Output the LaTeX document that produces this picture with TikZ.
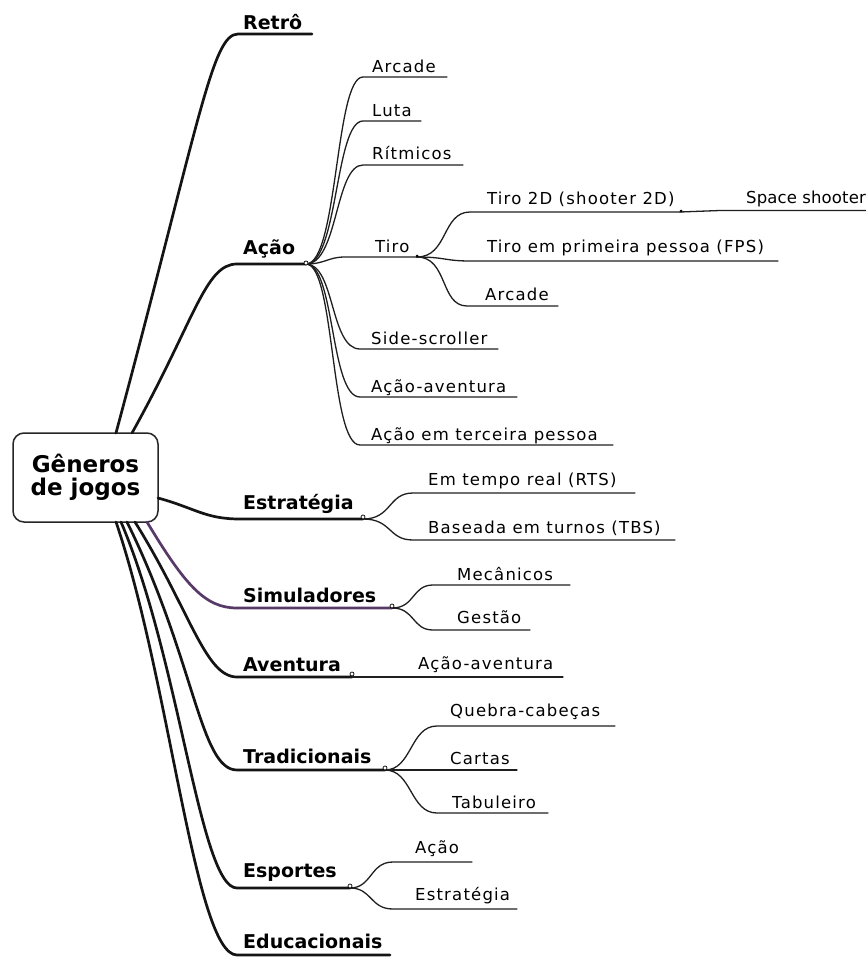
\documentclass[tikz,border=0pt]{standalone}
\usepackage{fontspec}
\setmainfont{DejaVu Sans}
\newfontfamily\leaffamily[LetterSpace=7.2]{DejaVu Sans}
\newfontfamily\tightfamily[LetterSpace=0.8]{DejaVu Sans}
\definecolor{plum}{RGB}{88,58,104}
\begin{document}
\begin{tikzpicture}[x=1pt,y=-1pt,
  topic/.style={anchor=base west, inner sep=0pt, font=\fontsize{19pt}{23pt}\selectfont\bfseries},
  leaf/.style={anchor=base west, inner sep=0pt, font=\fontsize{16.5pt}{20pt}\selectfont\leaffamily},
  tightleaf/.style={anchor=base west, inner sep=0pt, font=\fontsize{16.5pt}{20pt}\selectfont\tightfamily},
  trunk/.style={line width=2.7pt, line cap=round, draw=black!92},
  twig/.style={line width=1.3pt, line cap=round, draw=black!88},
  knob/.style={circle, draw=black, fill=white, line width=0.7pt, inner sep=0pt, minimum size=4pt},
  pin/.style={circle, fill=black, inner sep=0pt, minimum size=3pt},
]
\useasboundingbox[fill=white] (0,0) rectangle (866,958);

% central topic
\node[draw=black!85, line width=1.5pt, rounded corners=11pt, minimum width=145pt,
      minimum height=89pt, align=center, inner sep=0pt,
      font=\fontsize{23pt}{23pt}\selectfont\bfseries] (root) at (85.5,477.5) {Gêneros\\de jogos};
\coordinate (root-retro) at (116,433);
\coordinate (root-acao)  at (132,433);
\coordinate (root-estr)  at (158,498);
\coordinate (root-simu)  at (147,522);
\coordinate (root-aven)  at (135,522);
\coordinate (root-trad)  at (127,522);
\coordinate (root-espo)  at (121,522);
\coordinate (root-educ)  at (116,522);

% ---------- main topics ----------
\coordinate (retro-s) at (238,34);  \coordinate (retro-e) at (312,34);
\coordinate (acao-s)  at (237,264); \coordinate (acao-e)  at (306,264);
\coordinate (estr-s)  at (240,519); \coordinate (estr-e)  at (363,519);
\coordinate (simu-s)  at (237,608); \coordinate (simu-e)  at (392,608);
\coordinate (aven-s)  at (237,677); \coordinate (aven-e)  at (352,677);
\coordinate (trad-s)  at (237,770); \coordinate (trad-e)  at (385,770);
\coordinate (espo-s)  at (237,888); \coordinate (espo-e)  at (350,888);
\coordinate (educ-s)  at (237,955); \coordinate (educ-e)  at (390,955);

\node[topic] (retro) at (243,30)  {Retrô};
\node[topic] (acao)  at (243,254) {Ação};
\node[topic] (estr)  at (243,509) {Estratégia};
\node[topic] (simu)  at (243,602) {Simuladores};
\node[topic] (aven)  at (243,671) {Aventura};
\node[topic] (trad)  at (243,763) {Tradicionais};
\node[topic] (espo)  at (243,877) {Esportes};
\node[topic] (educ)  at (243,948) {Educacionais};

\draw[trunk] (root-retro) .. controls (200,120) and (212,34) .. (retro-s) -- (retro-e);
\draw[trunk] (root-acao) .. controls (195,320) and (205,264) .. (acao-s) -- (acao-e);
\draw[trunk] (root-estr) .. controls (195,508) and (205,519) .. (estr-s) -- (estr-e);
\draw[trunk, draw=plum] (root-simu) .. controls (185,585) and (205,608) .. (simu-s) -- (simu-e);
\draw[trunk] (root-aven) .. controls (190,610) and (205,677) .. (aven-s) -- (aven-e);
\draw[trunk] (root-trad) .. controls (195,660) and (200,770) .. (trad-s) -- (trad-e);
\draw[trunk] (root-espo) .. controls (180,660) and (200,888) .. (espo-s) -- (espo-e);
\draw[trunk] (root-educ) .. controls (170,680) and (195,955) .. (educ-s) -- (educ-e);

% ---------- Ação ----------
\coordinate (arc-s)  at (363,77);  \coordinate (arc-e)  at (447,77);
\coordinate (luta-s) at (363,121); \coordinate (luta-e) at (421,121);
\coordinate (ritm-s) at (363,165); \coordinate (ritm-e) at (463,165);
\coordinate (tiro-s) at (345,257); \coordinate (tiro-e) at (417,257);
\coordinate (side-s) at (360,349); \coordinate (side-e) at (498,349);
\coordinate (acav-s) at (360,397); \coordinate (acav-e) at (517,397);
\coordinate (terc-s) at (360,445); \coordinate (terc-e) at (613,445);

\node[leaf] (arc)  at (372,72)    {Arcade};
\node[leaf] (luta) at (372,116)   {Luta};
\node[leaf] (ritm) at (372,159.5) {Rítmicos};
\node[leaf] (tiro) at (375,252)   {Tiro};
\node[leaf] (side) at (371,344)   {Side-scroller};
\node[leaf] (acav) at (371,392)   {Ação-aventura};
\node[leaf] (terc) at (371,440)   {Ação em terceira pessoa};

\draw[twig] (acao-e) .. controls (338,264) and (335,77)  .. (arc-s)  -- (arc-e);
\draw[twig] (acao-e) .. controls (338,264) and (335,121) .. (luta-s) -- (luta-e);
\draw[twig] (acao-e) .. controls (338,264) and (335,165) .. (ritm-s) -- (ritm-e);
\draw[twig] (acao-e) .. controls (325,264) and (328,257) .. (tiro-s) -- (tiro-e);
\draw[twig] (acao-e) .. controls (335,264) and (330,349) .. (side-s) -- (side-e);
\draw[twig] (acao-e) .. controls (335,264) and (330,397) .. (acav-s) -- (acav-e);
\draw[twig] (acao-e) .. controls (335,264) and (330,445) .. (terc-s) -- (terc-e);

% ---------- Tiro ----------
\coordinate (t2d-s)   at (470,212);   \coordinate (t2d-e)   at (680,212);
\coordinate (fps-s)   at (470,261);   \coordinate (fps-e)   at (778,261);
\coordinate (tarc-s)  at (467,306);   \coordinate (tarc-e)  at (558,306);
\coordinate (space-s) at (720,210.5); \coordinate (space-e) at (866,210.5);

\node[leaf] (t2d)   at (487,204) {Tiro 2D (shooter 2D)};
\node[leaf] (fps)   at (487,252) {Tiro em primeira pessoa (FPS)};
\node[leaf] (tarc)  at (485,300) {Arcade};
\node[tightleaf] (space) at (746,203) {Space shooter};

\draw[twig] (tiro-e) .. controls (448,257) and (442,212) .. (t2d-s) -- (t2d-e);
\draw[twig] (tiro-e) .. controls (445,257) and (445,261) .. (fps-s) -- (fps-e);
\draw[twig] (tiro-e) .. controls (448,257) and (440,306) .. (tarc-s) -- (tarc-e);
\draw[twig] (t2d-e) .. controls (700,212) and (700,210.5) .. (space-s) -- (space-e);

% ---------- Estratégia ----------
\coordinate (rts-s) at (413,493); \coordinate (rts-e) at (635,493);
\coordinate (tbs-s) at (413,540); \coordinate (tbs-e) at (675,540);
\node[leaf] (rts) at (428,485) {Em tempo real (RTS)};
\node[leaf] (tbs) at (428,533) {Baseada em turnos (TBS)};
\draw[twig] (estr-e) .. controls (392,519) and (388,493) .. (rts-s) -- (rts-e);
\draw[twig] (estr-e) .. controls (392,519) and (388,540) .. (tbs-s) -- (tbs-e);

% ---------- Simuladores ----------
\coordinate (mec-s) at (433,585); \coordinate (mec-e) at (570,585);
\coordinate (ges-s) at (433,630); \coordinate (ges-e) at (530,630);
\node[leaf] (mec) at (457,580.5) {Mecânicos};
\node[leaf] (ges) at (457,623.5) {Gestão};
\draw[twig] (simu-e) .. controls (415,608) and (412,585) .. (mec-s) -- (mec-e);
\draw[twig] (simu-e) .. controls (415,608) and (412,630) .. (ges-s) -- (ges-e);

% ---------- Aventura ----------
\coordinate (avac-s) at (400,677); \coordinate (avac-e) at (563,677);
\node[leaf] (avac) at (418,669) {Ação-aventura};
\draw[twig] (aven-e) -- (avac-s) -- (avac-e);

% ---------- Tradicionais ----------
\coordinate (queb-s) at (437,726); \coordinate (queb-e) at (615,726);
\coordinate (cart-s) at (437,770); \coordinate (cart-e) at (517,770);
\coordinate (tabu-s) at (437,813); \coordinate (tabu-e) at (548,813);
\node[leaf] (queb) at (450,716)   {Quebra-cabeças};
\node[leaf] (cart) at (450,764)   {Cartas};
\node[leaf] (tabu) at (452,808.3) {Tabuleiro};
\draw[twig] (trad-e) .. controls (412,770) and (410,726) .. (queb-s) -- (queb-e);
\draw[twig] (trad-e) -- (cart-s) -- (cart-e);
\draw[twig] (trad-e) .. controls (412,770) and (410,813) .. (tabu-s) -- (tabu-e);

% ---------- Esportes ----------
\coordinate (eac-s) at (393,862); \coordinate (eac-e) at (472,862);
\coordinate (ees-s) at (393,909); \coordinate (ees-e) at (517,909);
\node[leaf] (eac) at (415,853) {Ação};
\node[leaf] (ees) at (415,900) {Estratégia};
\draw[twig] (espo-e) .. controls (372,888) and (370,862) .. (eac-s) -- (eac-e);
\draw[twig] (espo-e) .. controls (372,888) and (370,909) .. (ees-s) -- (ees-e);

% collapse markers
\node[knob] (k-acao) at (306,263) {};
\node[knob] (k-estr) at (363,517) {};
\node[knob] (k-simu) at (392,606) {};
\node[knob] (k-aven) at (352,674) {};
\node[knob] (k-trad) at (385,768) {};
\node[knob] (k-espo) at (350,886) {};
\node[pin]  (p-tiro) at (417,256) {};
\node[pin]  (p-t2d)  at (681,211) {};
\end{tikzpicture}
\end{document}
